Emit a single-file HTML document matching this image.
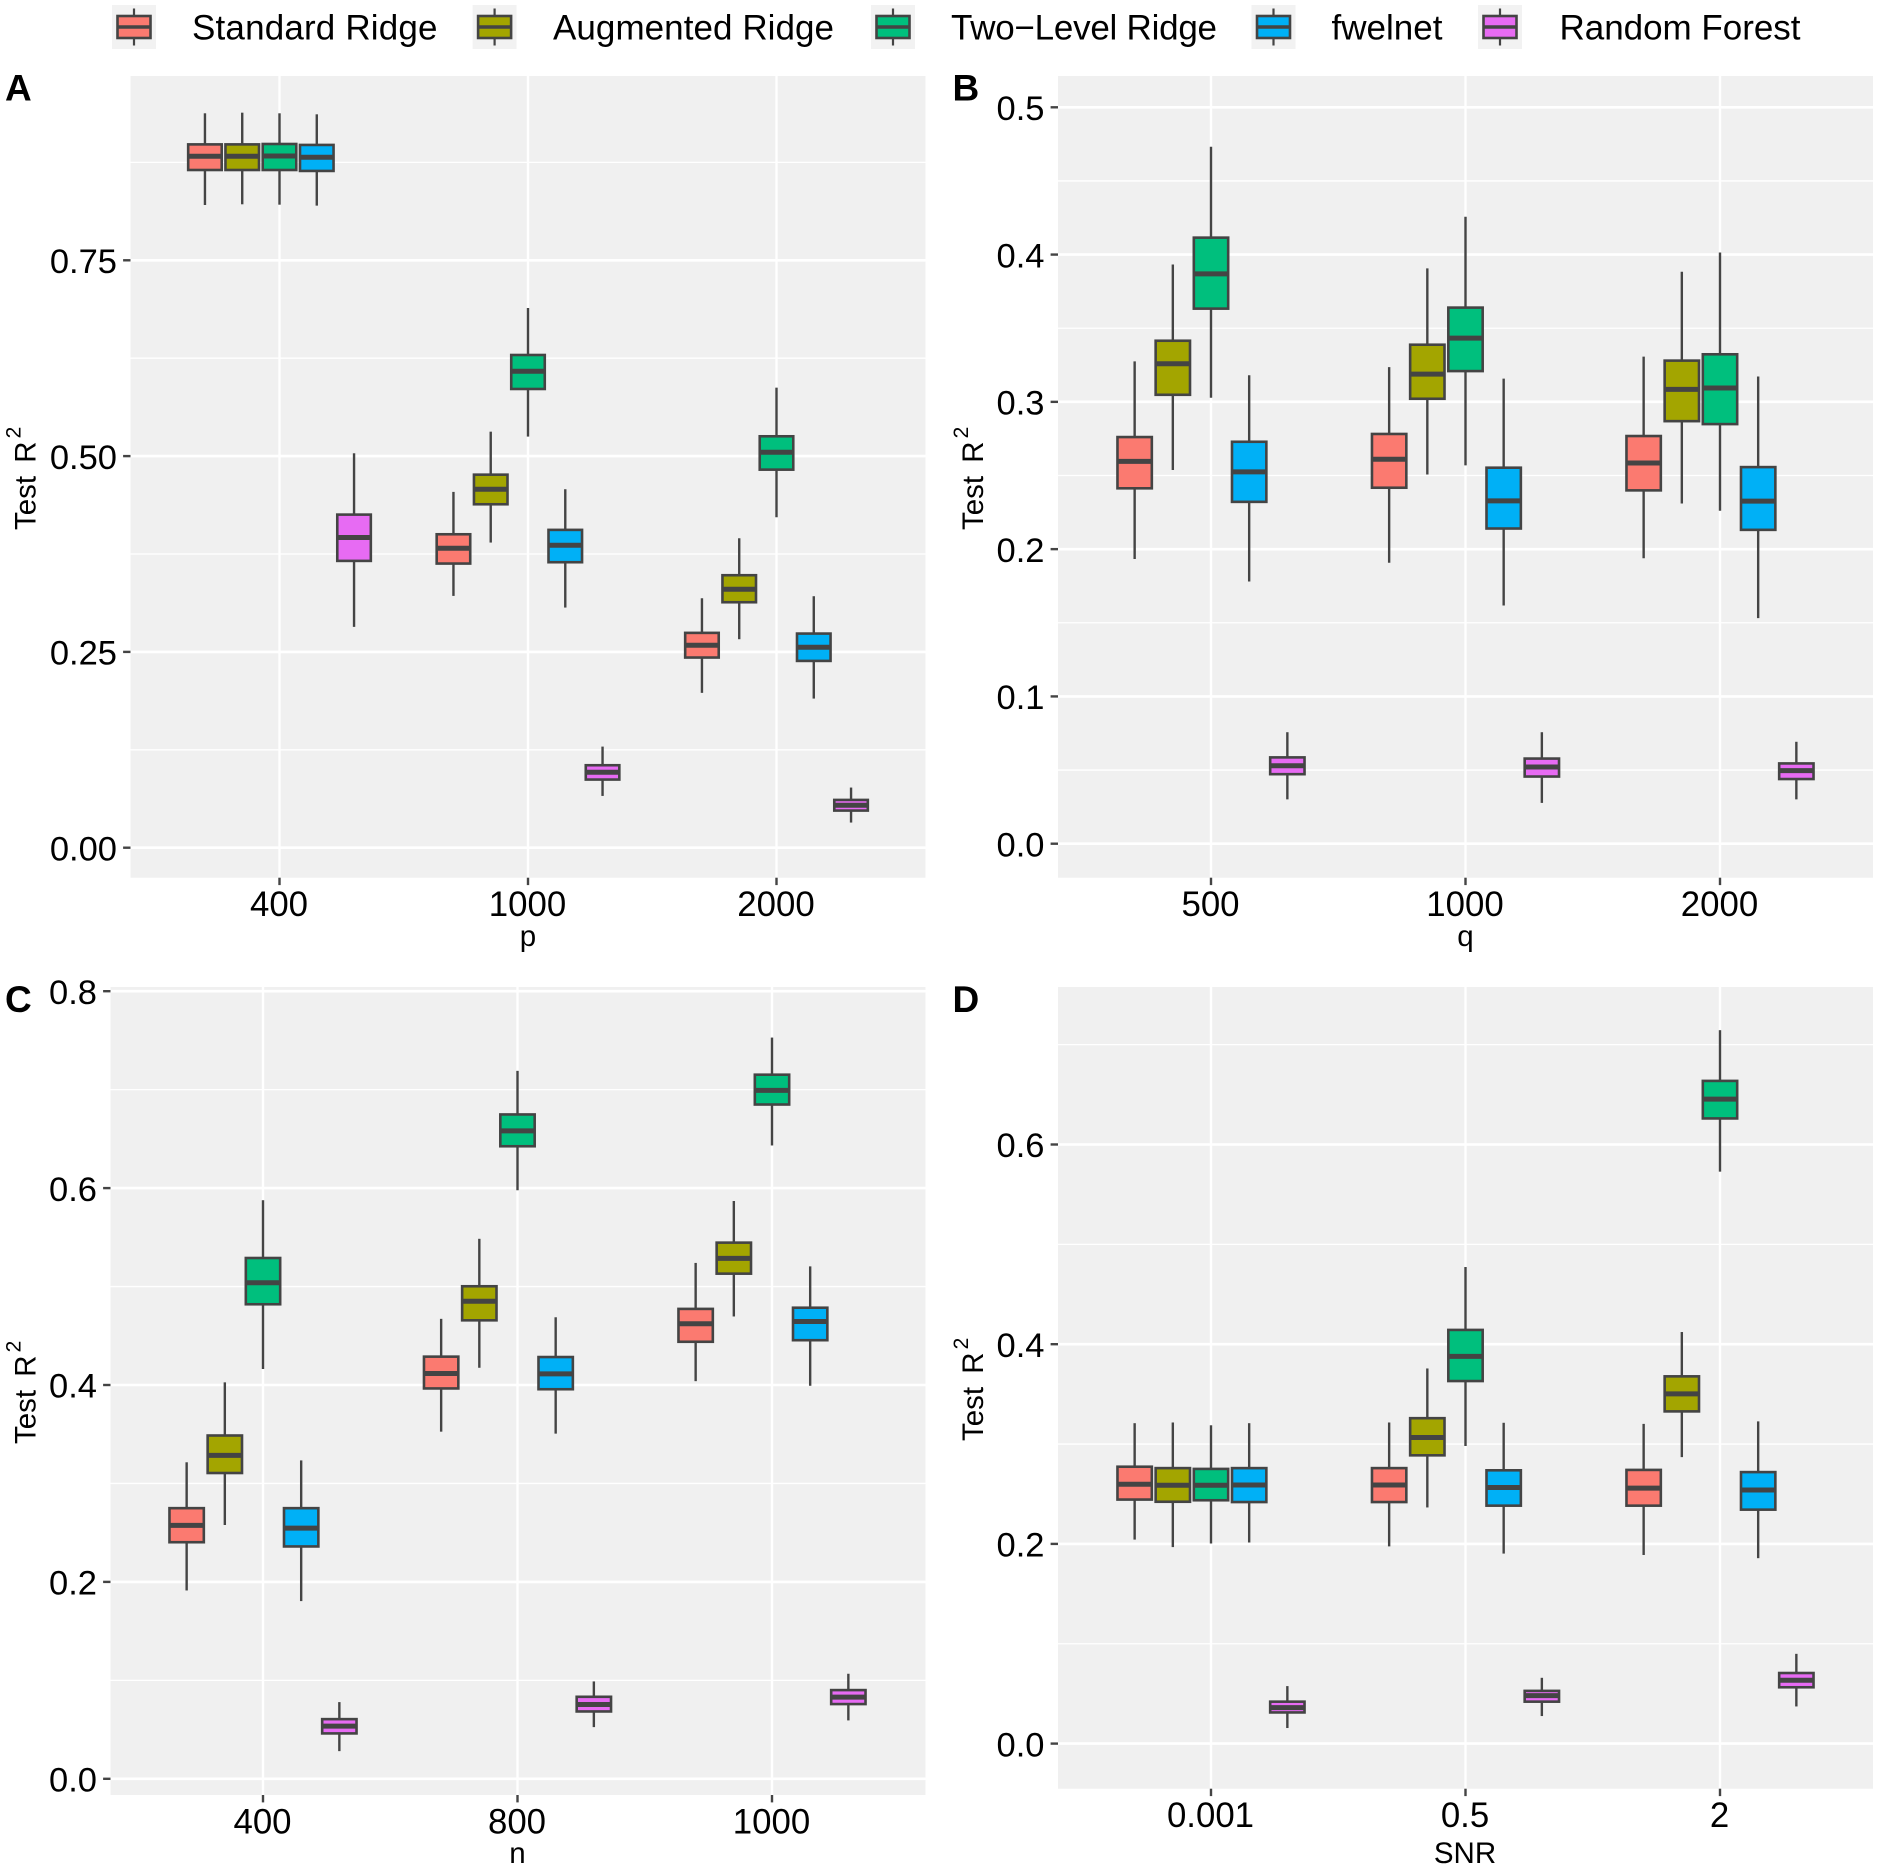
<!DOCTYPE html>
<html lang="en">
<head>
<meta charset="utf-8">
<title>Test R² by simulation parameter</title>
<style>
html,body{margin:0;padding:0;background:#fff;}
svg{display:block;}
text{font-family:"Liberation Sans",Arial,sans-serif;fill:#000;}
</style>
</head>
<body>
<svg id="chart" xmlns="http://www.w3.org/2000/svg" width="1878" height="1870" viewBox="0 0 1878 1870">
  <rect x="0" y="0" width="1878" height="1870" fill="#ffffff"/>
  <g id="panels"></g>

  <g>
    <text x="192" y="39.5" font-size="35" textLength="245.5">Standard Ridge</text>
    <text x="553" y="39.5" font-size="35" textLength="281">Augmented Ridge</text>
    <text x="951" y="39.5" font-size="35" textLength="266">Two−Level Ridge</text>
    <text x="1331.5" y="39.5" font-size="35" textLength="111">fwelnet</text>
    <text x="1559.5" y="39.5" font-size="35" textLength="241">Random Forest</text>
  </g>

  <g>
    <text x="5" y="100.5" font-size="37" font-weight="bold">A</text>
    <text x="952.5" y="100.5" font-size="37" font-weight="bold">B</text>
    <text x="5" y="1012" font-size="37" font-weight="bold">C</text>
    <text x="952.5" y="1012" font-size="37" font-weight="bold">D</text>
  </g>

  <g>
    <text x="528" y="946" font-size="29.5" text-anchor="middle">p</text>
    <text x="1465.5" y="946" font-size="29.5" text-anchor="middle">q</text>
    <text x="517.5" y="1863" font-size="29.5" text-anchor="middle">n</text>
    <text x="1465" y="1863" font-size="29.5" text-anchor="middle">SNR</text>
    <text transform="translate(35.5 530) rotate(-90)" font-size="29.5" word-spacing="5">Test R<tspan dx="3" dy="-15" font-size="21">2</tspan></text>
    <text transform="translate(983 530) rotate(-90)" font-size="29.5" word-spacing="5">Test R<tspan dx="3" dy="-15" font-size="21">2</tspan></text>
    <text transform="translate(35.5 1444) rotate(-90)" font-size="29.5" word-spacing="5">Test R<tspan dx="3" dy="-15" font-size="21">2</tspan></text>
    <text transform="translate(983 1441) rotate(-90)" font-size="29.5" word-spacing="5">Test R<tspan dx="3" dy="-15" font-size="21">2</tspan></text>
  </g>
</svg>

<script>
// Each row: lower whisker, first quartile, median, third quartile, upper whisker.
const seriesNames = ['standard-ridge', 'augmented-ridge', 'two-level-ridge', 'fwelnet', 'random-forest'];
const seriesColors = ['#FB7A70', '#A3A500', '#00BF7D', '#00B0F6', '#E76BF3'];

// Panel A
const panelACategories = ['400', '1000', '2000'];
const panelAYTicks = [0, 0.25, 0.5, 0.75];
const panelAYTickLabels = ['0.00', '0.25', '0.50', '0.75'];
const panelAYMinor = [0.125, 0.375, 0.625, 0.875];
const panelAStandard = [[0.8206, 0.8653, 0.8828, 0.898, 0.9377], [0.3215, 0.3628, 0.3824, 0.4002, 0.4543], [0.1977, 0.2428, 0.2585, 0.2743, 0.3185]];
const panelAAugmented = [[0.8215, 0.8653, 0.8828, 0.898, 0.9385], [0.3896, 0.4385, 0.4577, 0.4763, 0.5312], [0.2662, 0.3134, 0.33, 0.3479, 0.3951]];
const panelATwoLevel = [[0.821, 0.8653, 0.8832, 0.8985, 0.9377], [0.5249, 0.5857, 0.6083, 0.6291, 0.6891], [0.4219, 0.4827, 0.5049, 0.5253, 0.5874]];
const panelAFwelnet = [[0.8198, 0.8641, 0.8815, 0.8973, 0.9364], [0.3066, 0.3645, 0.3862, 0.4058, 0.4577], [0.1904, 0.2385, 0.256, 0.2734, 0.3211]];
const panelAForest = [[0.2819, 0.3662, 0.396, 0.4253, 0.5036], [0.0661, 0.087, 0.0964, 0.1053, 0.1291], [0.0321, 0.0474, 0.0542, 0.061, 0.0768]];

// Panel B
const panelBCategories = ['500', '1000', '2000'];
const panelBYTicks = [0, 0.1, 0.2, 0.3, 0.4, 0.5];
const panelBYTickLabels = ['0.0', '0.1', '0.2', '0.3', '0.4', '0.5'];
const panelBYMinor = [0.05, 0.15, 0.25, 0.35, 0.45];
const panelBStandard = [[0.1933, 0.2413, 0.2596, 0.2761, 0.3275], [0.1908, 0.2417, 0.261, 0.2782, 0.3236], [0.1938, 0.2399, 0.2585, 0.2768, 0.3307]];
const panelBAugmented = [[0.2537, 0.3048, 0.3259, 0.3415, 0.3933], [0.2507, 0.3021, 0.3188, 0.3388, 0.3906], [0.231, 0.2869, 0.3085, 0.328, 0.3883]];
const panelBTwoLevel = [[0.3028, 0.3633, 0.3869, 0.4115, 0.4732], [0.2569, 0.3209, 0.3433, 0.364, 0.4257], [0.2261, 0.2849, 0.3094, 0.3323, 0.4014]];
const panelBFwelnet = [[0.178, 0.2321, 0.2525, 0.2729, 0.3181], [0.1617, 0.214, 0.2328, 0.2553, 0.3158], [0.1532, 0.2131, 0.2326, 0.2557, 0.3172]];
const panelBForest = [[0.0301, 0.0472, 0.0529, 0.0586, 0.0757], [0.0277, 0.0456, 0.0521, 0.0578, 0.0757], [0.0301, 0.0439, 0.0496, 0.0545, 0.0692]];

// Panel C
const panelCCategories = ['400', '800', '1000'];
const panelCYTicks = [0, 0.2, 0.4, 0.6, 0.8];
const panelCYTickLabels = ['0.0', '0.2', '0.4', '0.6', '0.8'];
const panelCYMinor = [0.1, 0.3, 0.5, 0.7];
const panelCStandard = [[0.1913, 0.2403, 0.2574, 0.2749, 0.3215], [0.3526, 0.3965, 0.4117, 0.4288, 0.4672], [0.4039, 0.4439, 0.4622, 0.4773, 0.524]];
const panelCAugmented = [[0.2578, 0.3106, 0.3285, 0.3487, 0.4027], [0.4175, 0.4657, 0.4851, 0.5003, 0.5485], [0.4696, 0.5131, 0.5286, 0.5446, 0.5869]];
const panelCTwoLevel = [[0.4163, 0.482, 0.5038, 0.529, 0.5877], [0.5978, 0.6425, 0.6581, 0.6748, 0.7191], [0.6433, 0.6849, 0.6993, 0.7152, 0.7529]];
const panelCFwelnet = [[0.1805, 0.236, 0.2546, 0.2749, 0.3234], [0.3506, 0.3957, 0.4113, 0.4284, 0.4688], [0.3992, 0.4455, 0.4645, 0.4785, 0.5205]];
const panelCForest = [[0.0281, 0.0461, 0.0535, 0.0606, 0.0779], [0.0525, 0.0684, 0.0755, 0.0833, 0.0989], [0.0593, 0.0759, 0.083, 0.0901, 0.1067]];

// Panel D
const panelDCategories = ['0.001', '0.5', '2'];
const panelDYTicks = [0, 0.2, 0.4, 0.6];
const panelDYTickLabels = ['0.0', '0.2', '0.4', '0.6'];
const panelDYMinor = [0.1, 0.3, 0.5, 0.7];
const panelDStandard = [[0.2043, 0.2444, 0.2597, 0.2773, 0.3209], [0.1975, 0.2419, 0.259, 0.2759, 0.3216], [0.1889, 0.2383, 0.2558, 0.2741, 0.3202]];
const panelDAugmented = [[0.1968, 0.2422, 0.2587, 0.2759, 0.3216], [0.2365, 0.2887, 0.3066, 0.3259, 0.3757], [0.2869, 0.3327, 0.3503, 0.3678, 0.4122]];
const panelDTwoLevel = [[0.2004, 0.2437, 0.2587, 0.2751, 0.3188], [0.298, 0.3631, 0.3878, 0.4143, 0.4773], [0.5728, 0.6261, 0.6454, 0.6637, 0.7145]];
const panelDFwelnet = [[0.2014, 0.2419, 0.259, 0.2759, 0.3209], [0.1903, 0.2383, 0.2565, 0.2737, 0.3213], [0.1857, 0.2343, 0.254, 0.2719, 0.3227]];
const panelDForest = [[0.0156, 0.0312, 0.036, 0.042, 0.0576], [0.0276, 0.042, 0.048, 0.0528, 0.0659], [0.0372, 0.0564, 0.0635, 0.0707, 0.0899]];

const SVG_NS = 'http://www.w3.org/2000/svg';
const LINE = '#444444';
const panelsRoot = document.getElementById('panels');
const figure = document.getElementById('chart');

function make(tag, attrs, parent) {
  const node = document.createElementNS(SVG_NS, tag);
  Object.keys(attrs).forEach(function (k) { node.setAttribute(k, attrs[k]); });
  parent.appendChild(node);
  return node;
}

function drawBox(parent, row, cx, boxW, y, color, label) {
  const group = make('g', {}, parent);
  
  

  const upper = make('line', { x1: cx, x2: cx, y1: y(row[3]), y2: y(row[4]), stroke: LINE, 'stroke-width': 2.4 }, group);
  
  

  const lower = make('line', { x1: cx, x2: cx, y1: y(row[1]), y2: y(row[0]), stroke: LINE, 'stroke-width': 2.4 }, group);
  
  

  const body = make('rect', { x: cx - boxW / 2, y: y(row[3]), width: boxW, height: y(row[1]) - y(row[3]), fill: color, stroke: LINE, 'stroke-width': 2.6 }, group);
  
  

  const median = make('line', { x1: cx - boxW / 2, x2: cx + boxW / 2, y1: y(row[2]), y2: y(row[2]), stroke: LINE, 'stroke-width': 5 }, group);
  
  
}

function drawPanel(cfg) {
  const g = make('g', {}, panelsRoot);
  
  

  const y = function (v) { return cfg.yZero - v * cfg.yPerUnit; };
  const x = function (catIndex) { return cfg.xFirst + catIndex * cfg.xStep; };

  const bg = make('rect', { x: cfg.left, y: cfg.top, width: cfg.right - cfg.left, height: cfg.bottom - cfg.top, fill: '#F0F0F0' }, g);
  
  

  cfg.minor.forEach(function (v) {
    const line = make('line', { x1: cfg.left, x2: cfg.right, y1: y(v), y2: y(v), stroke: '#ffffff', 'stroke-width': 1.3 }, g);
    
    
  });
  cfg.yTicks.forEach(function (v, i) {
    const line = make('line', { x1: cfg.left, x2: cfg.right, y1: y(v), y2: y(v), stroke: '#ffffff', 'stroke-width': 2.6 }, g);
    
    

    const tick = make('line', { x1: cfg.left - 7.4, x2: cfg.left, y1: y(v), y2: y(v), stroke: LINE, 'stroke-width': 2.4 }, g);
    
    

    const label = make('text', { x: cfg.left - 13.5, y: y(v) + 12.7, 'font-size': 34.5, 'text-anchor': 'end' }, g);
    
    
    label.textContent = cfg.yLabels[i];
  });
  cfg.categories.forEach(function (c, i) {
    const line = make('line', { x1: x(i), x2: x(i), y1: cfg.top, y2: cfg.bottom, stroke: '#ffffff', 'stroke-width': 2.4 }, g);
    
    

    const tick = make('line', { x1: x(i), x2: x(i), y1: cfg.bottom, y2: cfg.bottom + 7.4, stroke: LINE, 'stroke-width': 2.4 }, g);
    
    

    const label = make('text', { x: x(i) - 0.5, y: cfg.bottom + 38.3, 'font-size': 34.8, 'text-anchor': 'middle' }, g);
    
    
    label.textContent = c;
  });

  const dodge = 0.15 * cfg.xStep;
  const boxW = 0.135 * cfg.xStep;
  cfg.series.forEach(function (rows, s) {
    rows.forEach(function (row, c) {
      const cx = x(c) + (s - 2) * dodge;
      drawBox(g, row, cx, boxW, y, seriesColors[s], seriesNames[s] + '-' + cfg.categories[c]);
    });
  });
}

drawPanel({ name: 'panel-a', left: 130.5, right: 925.5, top: 76, bottom: 877.7, xFirst: 279.5, xStep: 248.5, yZero: 847.7, yPerUnit: 783.2,
  categories: panelACategories, yTicks: panelAYTicks, yLabels: panelAYTickLabels, minor: panelAYMinor,
  series: [panelAStandard, panelAAugmented, panelATwoLevel, panelAFwelnet, panelAForest] });

drawPanel({ name: 'panel-b', left: 1058, right: 1873, top: 76, bottom: 877.7, xFirst: 1211, xStep: 254.5, yZero: 843.7, yPerUnit: 1472.8,
  categories: panelBCategories, yTicks: panelBYTicks, yLabels: panelBYTickLabels, minor: panelBYMinor,
  series: [panelBStandard, panelBAugmented, panelBTwoLevel, panelBFwelnet, panelBForest] });

drawPanel({ name: 'panel-c', left: 110.5, right: 925.5, top: 987, bottom: 1795, xFirst: 263, xStep: 254.5, yZero: 1778.8, yPerUnit: 984.5,
  categories: panelCCategories, yTicks: panelCYTicks, yLabels: panelCYTickLabels, minor: panelCYMinor,
  series: [panelCStandard, panelCAugmented, panelCTwoLevel, panelCFwelnet, panelCForest] });

drawPanel({ name: 'panel-d', left: 1058, right: 1873, top: 987, bottom: 1788.7, xFirst: 1211, xStep: 254.5, yZero: 1743.6, yPerUnit: 998.5,
  categories: panelDCategories, yTicks: panelDYTicks, yLabels: panelDYTickLabels, minor: panelDYMinor,
  series: [panelDStandard, panelDAugmented, panelDTwoLevel, panelDFwelnet, panelDForest] });

// Legend keys (drawn from the shared colours)
const legendKeyCenters = [134, 494.6, 893, 1273.5, 1500];
const legendGroup = make('g', {}, figure);


legendKeyCenters.forEach(function (cx, i) {
  const key = make('g', {}, legendGroup);
  
  

  const bg = make('rect', { x: cx - 22, y: 5, width: 44, height: 44, fill: '#F2F2F2' }, key);
  
  

  const whisker = make('line', { x1: cx, x2: cx, y1: 8.5, y2: 45.5, stroke: LINE, 'stroke-width': 2.2 }, key);
  
  

  const box = make('rect', { x: cx - 16.5, y: 16, width: 33, height: 22, fill: seriesColors[i], stroke: LINE, 'stroke-width': 2.6 }, key);
  
  

  const med = make('line', { x1: cx - 16.5, x2: cx + 16.5, y1: 27, y2: 27, stroke: LINE, 'stroke-width': 3.6 }, key);
  
  
});
</script>
</body>
</html>
